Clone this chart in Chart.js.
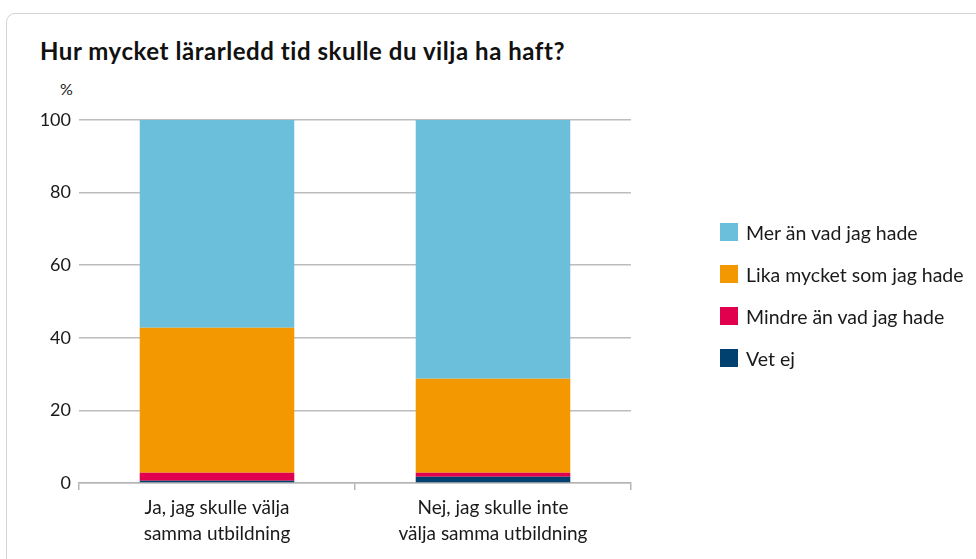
<!DOCTYPE html>
<html><head><meta charset="utf-8">
<script src="https://cdn.jsdelivr.net/npm/chart.js@4"></script>
<style>
html,body{margin:0;padding:0;background:#fff;}
#wrap{position:relative;width:976px;height:559px;overflow:hidden;font-family:Lato,"Open Sans",sans-serif;color:#1a1a1a;}
#card{position:absolute;left:6px;top:13px;width:1020px;height:600px;border:1px solid #d4d4d4;border-radius:9px;box-sizing:border-box;}
#title{position:absolute;left:40px;top:36px;font-size:24px;letter-spacing:0.55px;font-weight:700;color:#111;white-space:nowrap;}
#pct{position:absolute;left:60px;top:79px;font-size:16px;}
#chart{position:absolute;left:0;top:0;}
#legend{position:absolute;left:720px;top:211px;font-size:19.5px;}
.li{display:flex;align-items:center;height:42px;}
.sw{width:18px;height:18px;margin-right:8px;}
</style></head>
<body><div id="wrap">
<div id="card"></div>
<div id="title">Hur mycket lärarledd tid skulle du vilja ha haft?</div>
<div id="pct">%</div>
<canvas id="chart" width="976" height="559"></canvas>
<div id="legend"></div>
</div>
<script>
const categories = [["Ja, jag skulle välja","samma utbildning"],["Nej, jag skulle inte","välja samma utbildning"]];
const seriesNames = ["Vet ej","Mindre än vad jag hade","Lika mycket som jag hade","Mer än vad jag hade"];
const vetEj = [0.6, 1.7];
const mindre = [2.2, 1.1];
const lika = [40.0, 25.9];
const mer = [57.2, 71.3];
const colors = ["#00416F","#E0004D","#F39800","#6BBFDA"];
const values = [vetEj, mindre, lika, mer];

const datasets = seriesNames.map((n,i)=>({label:n,data:values[i],backgroundColor:colors[i],borderWidth:0,categoryPercentage:1,barPercentage:0.56}));

new Chart(document.getElementById('chart'),{
  type:'bar',
  data:{labels:categories,datasets},
  options:{
    responsive:false,animation:false,
    layout:{padding:{left:0,right:345,top:120,bottom:0}},
    plugins:{legend:{display:false},tooltip:{enabled:false}},
    scales:{
      x:{stacked:true,
        grid:{display:true,drawOnChartArea:false,drawTicks:true,tickLength:7,color:'#b5b5b5',lineWidth:1.5},
        border:{display:true,color:'#b5b5b5',width:1.5},
        ticks:{color:'#1a1a1a',font:{family:'Lato',size:19,lineHeight:1.37},padding:5,maxRotation:0},
        afterFit:s=>{s.height=76;}
      },
      y:{stacked:true,min:0,max:100,
        ticks:{stepSize:20,color:'#1a1a1a',font:{family:'Lato',size:18},padding:8},
        grid:{color:'#bcbcbc',lineWidth:1.5,drawTicks:false},
        border:{display:false},
        afterFit:s=>{s.width=79;}
      }
    }
  }
});

const leg=document.getElementById('legend');
for(let i=seriesNames.length-1;i>=0;i--){
  const d=document.createElement('div');d.className='li';
  d.innerHTML='<span class="sw" style="background:'+colors[i]+'"></span><span>'+seriesNames[i]+'</span>';
  leg.appendChild(d);
}
</script>
</body></html>
